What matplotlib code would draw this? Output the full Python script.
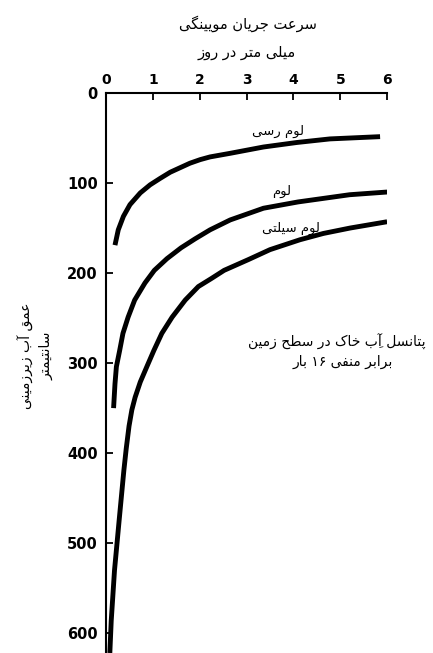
import matplotlib
matplotlib.use("Agg")
import matplotlib.pyplot as plt

# --- داده‌ها: سرعت جریان مویینگی (میلی متر در روز) و عمق آب زیرزمینی (سانتیمتر)
clay_loam_rate = [0.19, 0.26, 0.37, 0.51, 0.73, 0.94, 1.15, 1.37, 1.58, 1.79,
                  2.01, 2.22, 2.65, 3.36, 4.07, 4.78, 5.85]
clay_loam_depth = [169, 152, 137, 124, 111, 102, 95, 88, 83, 78,
                   74, 71, 67, 60, 55, 51, 48.5]

loam_rate = [0.16, 0.19, 0.22, 0.29, 0.36, 0.47, 0.61, 0.83, 1.03, 1.3,
             1.6, 1.9, 2.22, 2.65, 3.36, 4.1, 5.2, 6.0]
loam_depth = [350, 323, 304, 286, 267, 249, 230, 211, 197, 184,
              172, 162, 152, 141, 128, 121, 113, 110]

silty_loam_rate = [0.08, 0.11, 0.18, 0.28, 0.38, 0.43, 0.49, 0.55, 0.62, 0.73,
                   0.87, 1.02, 1.19, 1.41, 1.69, 1.97, 2.25, 2.52, 3.04, 3.5,
                   4.14, 4.64, 5.21, 6.0]
silty_loam_depth = [622, 586, 530, 474, 419, 395, 370, 352, 338, 321,
                    304, 286, 267, 249, 230, 215, 206, 197, 185, 174,
                    163, 156, 150, 143]

x_ticks = [0, 1, 2, 3, 4, 5, 6]
y_ticks = [0, 100, 200, 300, 400, 500, 600]


# --- شکل‌دهی ساده حروف فارسی (matplotlib حروف را به هم وصل نمی‌کند)
FORMS = {
    # isolated, final, initial, medial
    "\u0627": ("\uFE8D", "\uFE8E", None, None),
    "\u0622": ("\uFE81", "\uFE82", None, None),
    "\u0628": ("\uFE8F", "\uFE90", "\uFE91", "\uFE92"),
    "\u067E": ("\uFB56", "\uFB57", "\uFB58", "\uFB59"),
    "\u062A": ("\uFE95", "\uFE96", "\uFE97", "\uFE98"),
    "\u062C": ("\uFE9D", "\uFE9E", "\uFE9F", "\uFEA0"),
    "\u062D": ("\uFEA1", "\uFEA2", "\uFEA3", "\uFEA4"),
    "\u062E": ("\uFEA5", "\uFEA6", "\uFEA7", "\uFEA8"),
    "\u062F": ("\uFEA9", "\uFEAA", None, None),
    "\u0631": ("\uFEAD", "\uFEAE", None, None),
    "\u0632": ("\uFEAF", "\uFEB0", None, None),
    "\u0633": ("\uFEB1", "\uFEB2", "\uFEB3", "\uFEB4"),
    "\u0637": ("\uFEC1", "\uFEC2", "\uFEC3", "\uFEC4"),
    "\u0639": ("\uFEC9", "\uFECA", "\uFECB", "\uFECC"),
    "\u0641": ("\uFED1", "\uFED2", "\uFED3", "\uFED4"),
    "\u0642": ("\uFED5", "\uFED6", "\uFED7", "\uFED8"),
    "\u0644": ("\uFEDD", "\uFEDE", "\uFEDF", "\uFEE0"),
    "\u0645": ("\uFEE1", "\uFEE2", "\uFEE3", "\uFEE4"),
    "\u0646": ("\uFEE5", "\uFEE6", "\uFEE7", "\uFEE8"),
    "\u0648": ("\uFEED", "\uFEEE", None, None),
    "\u06A9": ("\uFB8E", "\uFB8F", "\uFB90", "\uFB91"),
    "\u06AF": ("\uFB92", "\uFB93", "\uFB94", "\uFB95"),
    "\u06CC": ("\uFBFC", "\uFBFD", "\uFBFE", "\uFBFF"),
}
MARKS = {"\u0650"}


def dual(c):
    return c in FORMS and FORMS[c][2] is not None


def fa(text):
    chars = list(text)
    bases = [i for i, c in enumerate(chars) if c not in MARKS]
    out = list(chars)
    for k, i in enumerate(bases):
        c = chars[i]
        if c not in FORMS:
            continue
        prev = chars[bases[k - 1]] if k > 0 else None
        nxt = chars[bases[k + 1]] if k + 1 < len(bases) else None
        join_prev = prev is not None and dual(prev)
        join_next = dual(c) and nxt in FORMS
        iso, fin, ini, med = FORMS[c]
        if join_prev and join_next:
            out[i] = med
        elif join_prev:
            out[i] = fin
        elif join_next:
            out[i] = ini
        else:
            out[i] = iso
    # خوشه‌ها: حرف + اعراب، یا اعداد پشت سر هم
    clusters = []
    for c in out:
        if c in MARKS and clusters:
            clusters[-1] += c
        elif c.isdigit() and clusters and clusters[-1][-1].isdigit():
            clusters[-1] += c
        else:
            clusters.append(c)
    return "".join(reversed(clusters))


fig = plt.figure(figsize=(4.33, 6.53), dpi=100)
ax = fig.add_axes([0.245, 0.0, 0.649, 0.8576])

for rate, depth in [(clay_loam_rate, clay_loam_depth),
                    (loam_rate, loam_depth),
                    (silty_loam_rate, silty_loam_depth)]:
    ax.plot(rate, depth, color="black", lw=3.5, solid_capstyle="butt",
            solid_joinstyle="round")

ax.set_xlim(0, 6)
ax.set_ylim(622, 0)
ax.xaxis.tick_top()
ax.set_xticks(x_ticks)
ax.set_yticks(y_ticks)
ax.spines["right"].set_visible(False)
ax.spines["bottom"].set_visible(False)
ax.spines["top"].set_linewidth(1.5)
ax.spines["left"].set_linewidth(1.5)
ax.tick_params(axis="x", direction="in", length=5, width=1.3, pad=4,
               labelsize=10)
ax.tick_params(axis="y", direction="in", length=5, width=1.3, pad=6,
               labelsize=10.5)
for lab in ax.get_xticklabels() + ax.get_yticklabels():
    lab.set_fontweight("bold")

# عنوان محور افقی
fig.text(0.572, 1 - 24 / 653, fa("سرعت جریان مویینگی"), ha="center",
         va="center", fontsize=10.5)
fig.text(0.570, 1 - 52 / 653, fa("میلی متر در روز"), ha="center",
         va="center", fontsize=10.5)

# عنوان محور عمودی
fig.text(0.082, 1 - 356 / 653, fa("عمق آب زیرزمینی") + "\n" + fa("سانتیمتر"),
         ha="center", va="center", rotation=90, fontsize=10,
         multialignment="center", linespacing=1.45)

# نام خاک‌ها
ax.text(3.67, 43, fa("لوم رسی"), ha="center", va="center", fontsize=9.5)
ax.text(3.75, 109, fa("لوم"), ha="center", va="center", fontsize=9.5)
ax.text(3.95, 150, fa("لوم سیلتی"), ha="center", va="center", fontsize=9.5)

ax.text(4.93, 277, fa("پتانسل آبِ خاک در سطح زمین"), ha="center",
        va="center", fontsize=10)
ax.text(5.05, 299, fa("برابر منفی ۱۶ بار"), ha="center", va="center",
        fontsize=10)

fig.savefig("out.png", dpi=100)
